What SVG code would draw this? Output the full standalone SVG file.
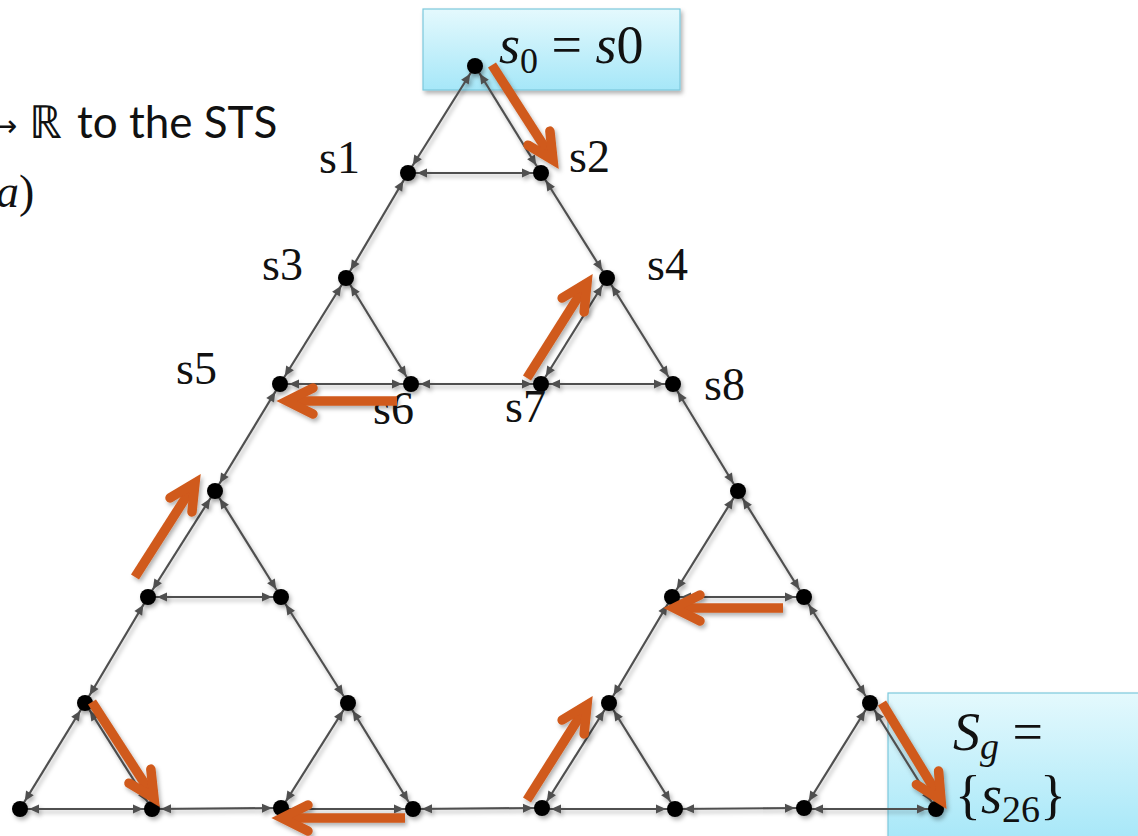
<svg xmlns="http://www.w3.org/2000/svg" width="1138" height="836" viewBox="0 0 1138 836">
<defs>
  <style>
    .edge{stroke:#505050;stroke-width:2.2;fill:none;marker-start:url(#ah);marker-end:url(#ah)}
    .node{fill:#000}
    .lbl{font-family:"Liberation Serif",serif;font-size:46px;fill:#111}
    .math{font-family:"Liberation Serif",serif;fill:#111}
    .it{font-style:italic}
    .path{stroke:#D05A1B;stroke-width:9.5;fill:none;marker-end:url(#oh)}
    .box{stroke:#7cc9dc;stroke-width:1.2;fill:url(#bg)}
    .txt{font-family:"Lato","Open Sans",sans-serif;font-size:44px;fill:#111}
  </style>
  <linearGradient id="bg" x1="0" y1="0" x2="0" y2="1">
    <stop offset="0" stop-color="#e4f9fd"/>
    <stop offset="1" stop-color="#a6e7f8"/>
  </linearGradient>
  <filter id="sh" x="-20%" y="-20%" width="140%" height="140%">
    <feDropShadow dx="2" dy="3" stdDeviation="2" flood-color="#000" flood-opacity="0.3"/>
  </filter>
  <marker id="ah" markerUnits="userSpaceOnUse" orient="auto-start-reverse" refX="9" refY="0" markerWidth="10" markerHeight="10" overflow="visible">
    <path d="M0,0 L-10,-4.5 L-10,4.5 Z" fill="#505050"/>
  </marker>
  <marker id="oh" markerUnits="userSpaceOnUse" orient="auto" refX="0" refY="0" markerWidth="10" markerHeight="10" overflow="visible">
    <path d="M-26,-13 L0,0 L-26,13" fill="none" stroke="#D05A1B" stroke-width="9.5" stroke-linecap="round" stroke-linejoin="miter"/>
  </marker>
</defs>
<rect width="1138" height="836" fill="#fff"/>

<g id="left-text">
  <text x="-8" y="136" style="font-family:'DejaVu Sans',sans-serif;font-size:30px;fill:#111">→</text>
  <text class="math" x="29" y="138" font-size="46">ℝ</text>
  <text class="txt" x="77" y="138">to the STS</text>
  <text class="math" x="-4" y="207" font-size="46"><tspan class="it">a</tspan>)</text>
</g>

<g id="start-box" filter="url(#sh)">
  <rect class="box" x="423" y="9" width="257" height="81"/>
</g>
<g id="goal-box" filter="url(#sh)">
  <rect class="box" x="888" y="693" width="260" height="150"/>
</g>

<g id="connectors" filter="url(#sh)">
  <line class="edge" x1="475" y1="66" x2="408" y2="173"/>
  <line class="edge" x1="475" y1="66" x2="541" y2="173"/>
  <line class="edge" x1="408" y1="173" x2="541" y2="173"/>
  <line class="edge" x1="408" y1="173" x2="346" y2="278"/>
  <line class="edge" x1="541" y1="173" x2="607" y2="278"/>
  <line class="edge" x1="346" y1="278" x2="280" y2="384"/>
  <line class="edge" x1="346" y1="278" x2="411" y2="384"/>
  <line class="edge" x1="280" y1="384" x2="411" y2="384"/>
  <line class="edge" x1="607" y1="278" x2="541" y2="384"/>
  <line class="edge" x1="607" y1="278" x2="673" y2="384"/>
  <line class="edge" x1="541" y1="384" x2="673" y2="384"/>
  <line class="edge" x1="411" y1="384" x2="541" y2="384"/>
  <line class="edge" x1="280" y1="384" x2="215" y2="491"/>
  <line class="edge" x1="673" y1="384" x2="738" y2="491"/>
  <line class="edge" x1="215" y1="491" x2="148" y2="597"/>
  <line class="edge" x1="215" y1="491" x2="281" y2="597"/>
  <line class="edge" x1="148" y1="597" x2="281" y2="597"/>
  <line class="edge" x1="738" y1="491" x2="672" y2="597"/>
  <line class="edge" x1="738" y1="491" x2="804" y2="597"/>
  <line class="edge" x1="672" y1="597" x2="804" y2="597"/>
  <line class="edge" x1="148" y1="597" x2="85" y2="703"/>
  <line class="edge" x1="281" y1="597" x2="348" y2="703"/>
  <line class="edge" x1="672" y1="597" x2="609" y2="703"/>
  <line class="edge" x1="804" y1="597" x2="870" y2="703"/>
  <line class="edge" x1="85" y1="703" x2="20" y2="809"/>
  <line class="edge" x1="85" y1="703" x2="152" y2="809"/>
  <line class="edge" x1="20" y1="809" x2="152" y2="809"/>
  <line class="edge" x1="348" y1="703" x2="281" y2="809"/>
  <line class="edge" x1="348" y1="703" x2="413" y2="809"/>
  <line class="edge" x1="281" y1="809" x2="413" y2="809"/>
  <line class="edge" x1="152" y1="809" x2="281" y2="808"/>
  <line class="edge" x1="609" y1="703" x2="542" y2="809"/>
  <line class="edge" x1="609" y1="703" x2="675" y2="809"/>
  <line class="edge" x1="542" y1="809" x2="675" y2="809"/>
  <line class="edge" x1="413" y1="809" x2="542" y2="808"/>
  <line class="edge" x1="870" y1="703" x2="804" y2="809"/>
  <line class="edge" x1="870" y1="703" x2="936" y2="809"/>
  <line class="edge" x1="804" y1="809" x2="936" y2="809"/>
  <line class="edge" x1="675" y1="809" x2="804" y2="808"/>
</g>

<g id="nodes" filter="url(#sh)">
  <g id="s0"><circle class="node" cx="475" cy="66" r="8"/></g>
  <g id="s1"><circle class="node" cx="408" cy="173" r="8"/></g>
  <g id="s2"><circle class="node" cx="541" cy="173" r="8"/></g>
  <g id="s3"><circle class="node" cx="346" cy="278" r="8"/></g>
  <g id="s4"><circle class="node" cx="607" cy="278" r="8"/></g>
  <g id="s5"><circle class="node" cx="280" cy="384" r="8"/></g>
  <g id="s6"><circle class="node" cx="411" cy="384" r="8"/></g>
  <g id="s7"><circle class="node" cx="541" cy="384" r="8"/></g>
  <g id="s8"><circle class="node" cx="673" cy="384" r="8"/></g>
  <g id="s9"><circle class="node" cx="215" cy="491" r="8"/></g>
  <g id="s10"><circle class="node" cx="738" cy="491" r="8"/></g>
  <g id="s11"><circle class="node" cx="148" cy="597" r="8"/></g>
  <g id="s12"><circle class="node" cx="281" cy="597" r="8"/></g>
  <g id="s13"><circle class="node" cx="672" cy="597" r="8"/></g>
  <g id="s14"><circle class="node" cx="804" cy="597" r="8"/></g>
  <g id="s15"><circle class="node" cx="85" cy="703" r="8"/></g>
  <g id="s16"><circle class="node" cx="348" cy="703" r="8"/></g>
  <g id="s17"><circle class="node" cx="609" cy="703" r="8"/></g>
  <g id="s18"><circle class="node" cx="870" cy="703" r="8"/></g>
  <g id="s19"><circle class="node" cx="20" cy="809" r="8"/></g>
  <g id="s20"><circle class="node" cx="152" cy="809" r="8"/></g>
  <g id="s21"><circle class="node" cx="281" cy="808" r="8"/></g>
  <g id="s22"><circle class="node" cx="413" cy="809" r="8"/></g>
  <g id="s23"><circle class="node" cx="542" cy="808" r="8"/></g>
  <g id="s24"><circle class="node" cx="675" cy="809" r="8"/></g>
  <g id="s25"><circle class="node" cx="804" cy="808" r="8"/></g>
  <g id="s26"><circle class="node" cx="936" cy="809" r="8"/></g>
</g>

<g id="labels">
  <text class="lbl" x="319" y="173">s1</text>
  <text class="lbl" x="569" y="172">s2</text>
  <text class="lbl" x="262" y="280">s3</text>
  <text class="lbl" x="647" y="280">s4</text>
  <text class="lbl" x="176" y="384">s5</text>
  <text class="lbl" x="373" y="424">s6</text>
  <text class="lbl" x="505" y="422">s7</text>
  <text class="lbl" x="704" y="400">s8</text>
</g>

<g id="path-arrows" filter="url(#sh)">
  <path class="path" d="M492,65 L553,160"/>
  <path class="path" d="M527,378 L587,283"/>
  <path class="path" d="M397,401 L287,401"/>
  <path class="path" d="M135,577 L195,483"/>
  <path class="path" d="M783,608 L674,608"/>
  <path class="path" d="M92,702 L154,798"/>
  <path class="path" d="M405,818 L282,818"/>
  <path class="path" d="M527,800 L587,705"/>
  <path class="path" d="M882,703 L941,800"/>
</g>

<g id="box-text">
  <text class="math" x="499" y="63" font-size="54"><tspan class="it">s</tspan><tspan font-size="36" dy="10">0</tspan><tspan dy="-10"> = </tspan><tspan class="it">s</tspan>0</text>
  <text class="math" x="953" y="750" font-size="54"><tspan class="it">S</tspan><tspan class="it" font-size="38" dy="9">g</tspan><tspan dy="-9">  =</tspan></text>
  <text class="math" x="955" y="813" font-size="54">{<tspan class="it">s</tspan><tspan font-size="38" dy="9">26</tspan><tspan dy="-9">}</tspan></text>
</g>
</svg>
